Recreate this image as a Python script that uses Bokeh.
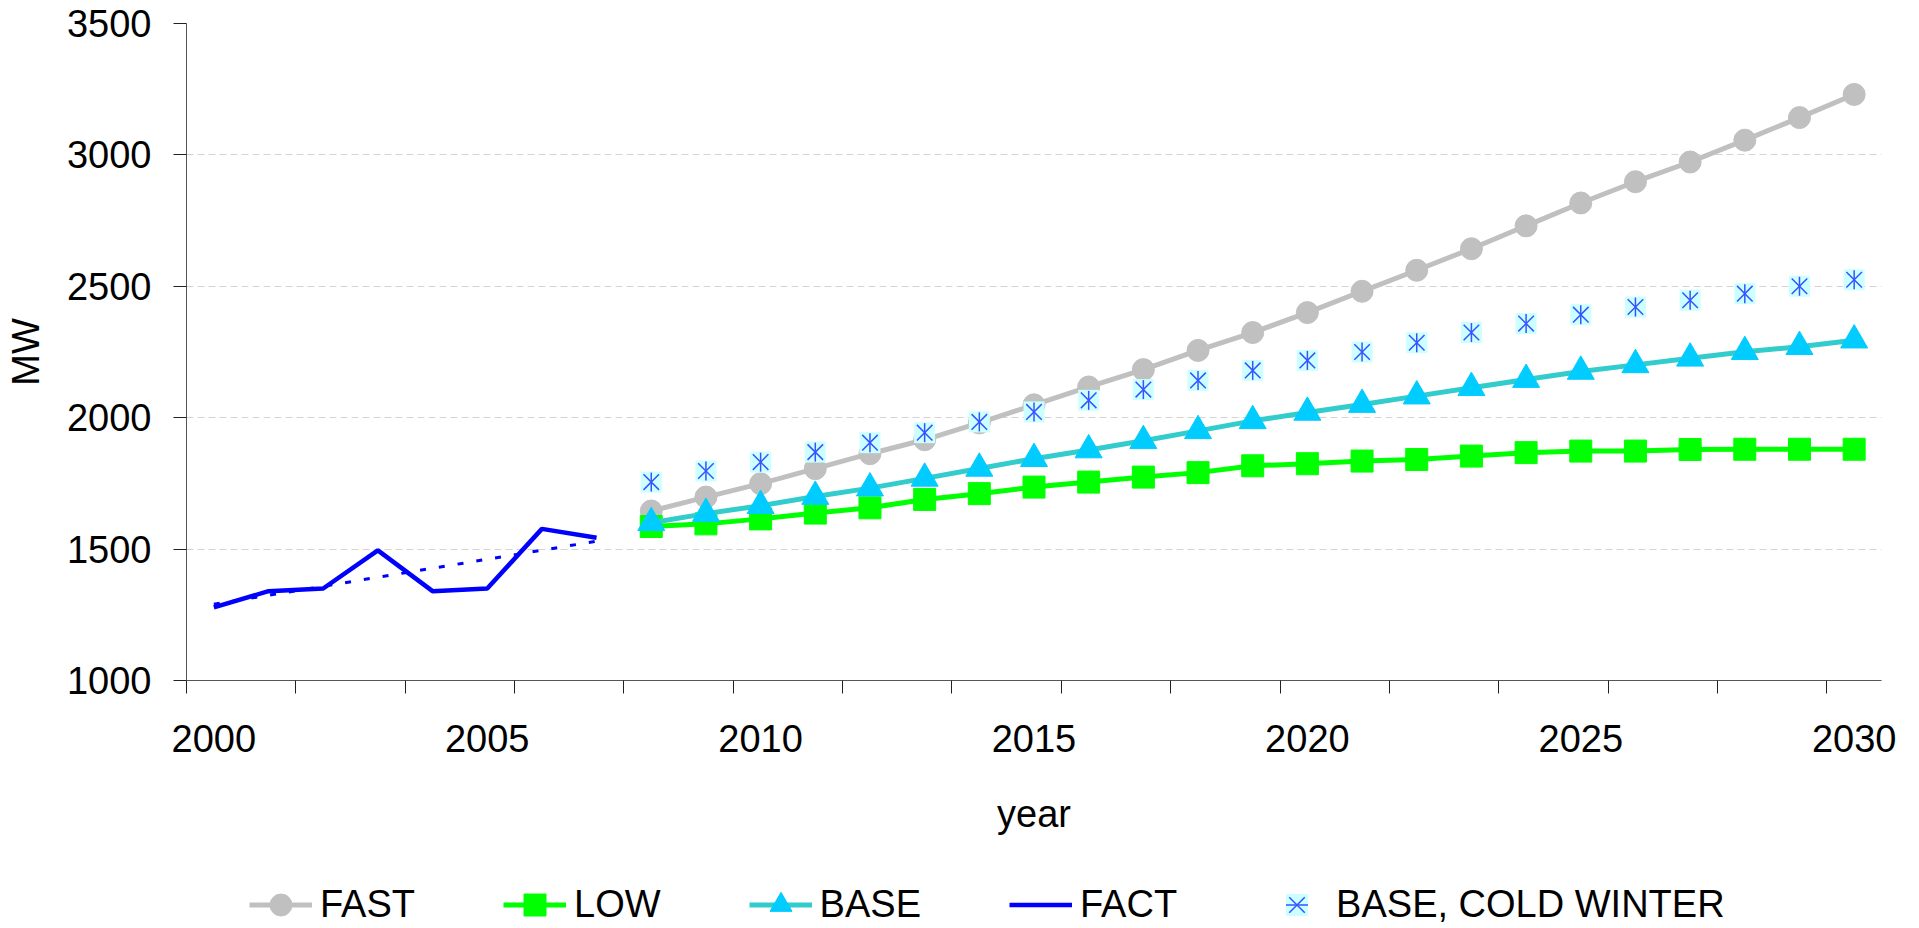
import math
from bokeh.plotting import figure
from bokeh.layouts import column
from bokeh.models import Range1d, FixedTicker, Legend, LegendItem
from bokeh.embed import file_html
from bokeh.resources import INLINE

# ---------------- data ----------------
years_fact = [2000, 2001, 2002, 2003, 2004, 2005, 2006, 2007]
fact = [1278, 1340, 1350, 1495, 1340, 1350, 1577, 1543]

trend_years = [2000, 2007]
trend_vals = [1290, 1530]

years_fc = [2008, 2009, 2010, 2011, 2012, 2013, 2014, 2015, 2016, 2017, 2018, 2019,
            2020, 2021, 2022, 2023, 2024, 2025, 2026, 2027, 2028, 2029, 2030]
fast = [1645, 1698, 1749, 1806, 1863, 1916, 1980, 2049, 2117, 2183, 2256, 2324,
        2400, 2481, 2561, 2643, 2730, 2817, 2898, 2973, 3056, 3142, 3230]
low = [1586, 1596, 1615, 1637, 1657, 1689, 1711, 1736, 1755, 1774, 1791, 1817,
       1825, 1835, 1841, 1854, 1867, 1873, 1873, 1879, 1880, 1880, 1880]
base = [1600, 1635, 1665, 1700, 1732, 1769, 1807, 1844, 1877, 1912, 1950, 1988,
        2020, 2050, 2082, 2114, 2145, 2176, 2201, 2226, 2251, 2270, 2295]
cold = [1755, 1797, 1831, 1869, 1905, 1943, 1984, 2022, 2066, 2107, 2142, 2180,
        2218, 2250, 2285, 2324, 2358, 2392, 2421, 2447, 2472, 2500, 2525]

x_label_years = [2000, 2005, 2010, 2015, 2020, 2025, 2030]
x_tick_marks = [1999.5, 2001.5, 2003.5, 2005.5, 2007.5, 2009.5, 2011.5, 2013.5,
                2015.5, 2017.5, 2019.5, 2021.5, 2023.5, 2025.5, 2027.5, 2029.5]
y_ticks = [1000, 1500, 2000, 2500, 3000, 3500]

FONT = "Liberation Sans"
FS = "38px"

STYLE = {
    "FAST": dict(color="#C0C0C0", marker="circle", size=22, fill="#C0C0C0"),
    "LOW": dict(color="#00FF00", marker="square", size=22, fill="#00FF00"),
    "BASE": dict(color="#33CCCC", marker="triangle", size=27, fill="#00CCFF"),
}
SERIES = {"FAST": fast, "LOW": low, "BASE": base}
LW = 5


def draw_series(fig):
    """Draw all series on fig in legend order; returns renderers per series."""
    out = {}
    for name in ("FAST", "LOW", "BASE"):
        s = STYLE[name]
        vals = SERIES[name]
        r1 = fig.line(years_fc, vals, line_color=s["color"], line_width=LW)
        r2 = fig.scatter(years_fc, vals, marker=s["marker"], size=s["size"],
                         fill_color=s["fill"], line_color=s["fill"])
        out[name] = [r1, r2]
    rf = fig.line(years_fact, fact, line_color="#0000FF", line_width=4.5)
    out["FACT"] = [rf]
    fig.line(trend_years, trend_vals, line_color="#0000FF", line_width=3,
             line_dash="6 13")
    c1 = fig.scatter(years_fc, cold, marker="square", size=21,
                     fill_color="#CCFFFF", line_color=None)
    c2 = fig.scatter(years_fc, cold, marker="x", size=22,
                     line_color="#3355FF", line_width=1.5)
    c3 = fig.scatter(years_fc, cold, marker="dash", size=19, angle=math.pi / 2,
                     line_color="#3355FF", line_width=1.5)
    out["BASE, COLD WINTER"] = [c1, c2, c3]
    return out


# ---------------- main figure ----------------
W = 1915
p = figure(width=W, height=840, output_backend="svg", toolbar_location=None,
           x_range=Range1d(1999.5, 2030.5), y_range=Range1d(1000, 3500),
           min_border_left=186, min_border_right=34, min_border_top=23,
           min_border_bottom=160)
p.outline_line_color = None
p.background_fill_color = "white"

xa = p.xaxis[0]
xa.ticker = FixedTicker(ticks=x_label_years, minor_ticks=x_tick_marks)
xa.major_tick_line_color = None
xa.major_tick_out = 0
xa.major_tick_in = 0
xa.minor_tick_out = 13
xa.minor_tick_in = 0
xa.minor_tick_line_color = "#222222"
xa.axis_line_color = "#555555"
xa.major_label_standoff = 31
xa.major_label_text_font = FONT
xa.major_label_text_font_size = FS
xa.major_label_text_color = "black"
xa.axis_label = "year"
xa.axis_label_text_font = FONT
xa.axis_label_text_font_size = FS
xa.axis_label_text_font_style = "normal"
xa.axis_label_text_color = "black"
xa.axis_label_standoff = 38

ya = p.yaxis[0]
ya.ticker = FixedTicker(ticks=y_ticks)
ya.minor_tick_line_color = None
ya.major_tick_out = 13
ya.major_tick_in = 0
ya.major_tick_line_color = "#222222"
ya.axis_line_color = "#555555"
ya.major_label_standoff = 22
ya.major_label_text_font = FONT
ya.major_label_text_font_size = FS
ya.major_label_text_color = "black"
ya.axis_label = "MW"
ya.axis_label_text_font = FONT
ya.axis_label_text_font_size = FS
ya.axis_label_text_font_style = "normal"
ya.axis_label_text_color = "black"
ya.axis_label_standoff = 17

p.xgrid.visible = False
p.ygrid.ticker = FixedTicker(ticks=y_ticks)
p.ygrid.grid_line_color = "#D4D4D4"
p.ygrid.grid_line_dash = "7 4"
p.ygrid.grid_line_width = 1

draw_series(p)

# ---------------- legend strip (same series, out of view; only legend shows) ----
lg = figure(width=W, height=84, output_backend="svg", toolbar_location=None,
            x_range=Range1d(0, 1), y_range=Range1d(0, 1),
            x_axis_type=None, y_axis_type=None,
            min_border_left=186, min_border_right=34, min_border_top=0,
            min_border_bottom=0)
lg.outline_line_color = None
rends = draw_series(lg)

legend = Legend(
    items=[LegendItem(label=n, renderers=rends[n])
           for n in ("FAST", "LOW", "BASE", "FACT", "BASE, COLD WINTER")],
    orientation="horizontal",
    location=(63, -8),
    glyph_width=63, glyph_height=55,
    label_standoff=8, spacing=88, padding=0, margin=0,
    border_line_color=None, background_fill_alpha=0,
    label_text_font=FONT, label_text_font_size=FS, label_text_color="black",
)
lg.add_layout(legend, "center")

layout = column(p, lg, spacing=0)
open("out.html", "w").write(file_html(layout, INLINE))
